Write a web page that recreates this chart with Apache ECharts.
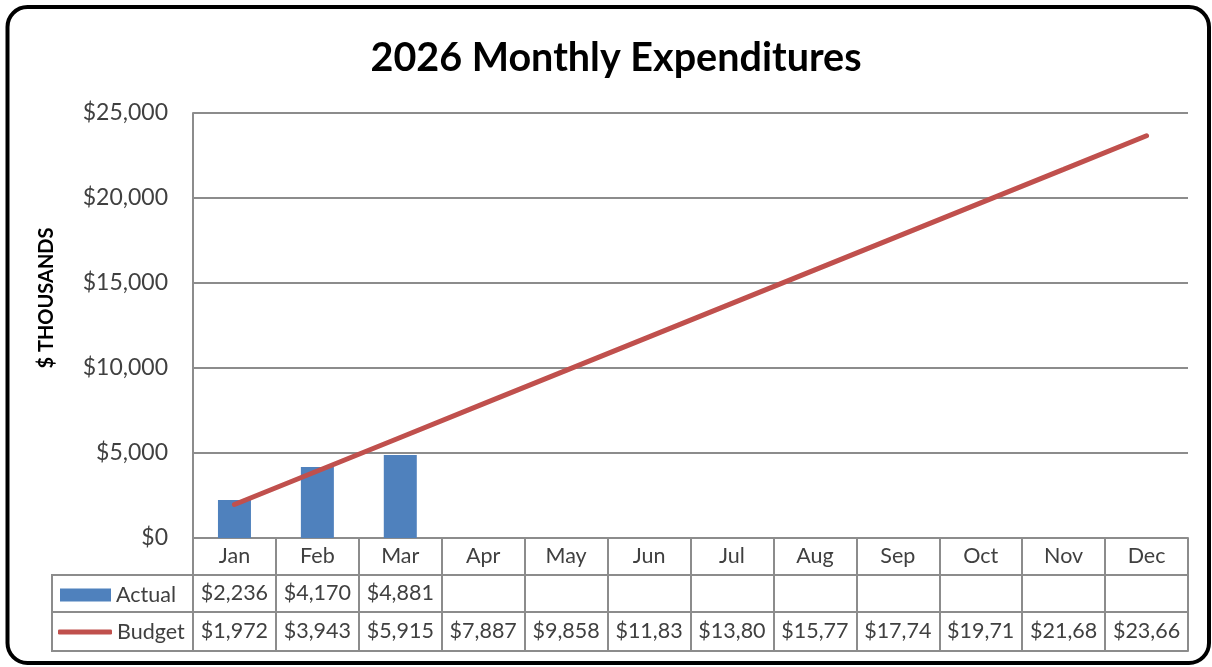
<!DOCTYPE html>
<html>
<head>
<meta charset="utf-8">
<title>2026 Monthly Expenditures</title>
<script src="https://cdn.jsdelivr.net/npm/echarts@6/dist/echarts.min.js"></script>
<style>
  html, body { margin: 0; padding: 0; background: #fff; }
  #chart { width: 1212px; height: 667px; }
</style>
</head>
<body>
<div id="chart"></div>
<script>
// Months along the category axis (also the header row of the data table)
const months = ['Jan', 'Feb', 'Mar', 'Apr', 'May', 'Jun', 'Jul', 'Aug', 'Sep', 'Oct', 'Nov', 'Dec'];
// Actual spend to date ($ thousands)
const actual = [2236, 4170, 4881, null, null, null, null, null, null, null, null, null];
// Cumulative budget ($ thousands)
const budget = [1972, 3943, 5915, 7887, 9858, 11830, 13801, 15773, 17744, 19715, 21686, 23660];
// Value axis ticks
const yMin = 0, yMax = 25000, yStep = 5000;

const FONT = 'Lato, "Open Sans", sans-serif';
const TEXT = '#404040';
const RULE = '#8c8c8c';
const BLUE = '#4f81bd';
const RED = '#c0504d';

// Plot layout
const G = { left: 193, right: 1188, top: 113, bottom: 538 };
const ROW = [37, 37, 39];            // table row heights: months, Actual, Budget
const LEG_LEFT = 52;                 // left edge of the series-name column

const money = v => '$' + String(v).replace(/\B(?=(\d{3})+(?!\d))/g, ',');

function tableAxis(offset, rowH, labelFn, showLabels) {
  return {
    type: 'category',
    data: months,
    position: 'bottom',
    offset: offset,
    boundaryGap: true,
    axisLine: { show: true, lineStyle: { color: RULE, width: 2 } },
    axisTick: { show: rowH > 0, interval: 0, alignWithLabel: false, inside: false,
                length: rowH, lineStyle: { color: RULE, width: 2 } },
    axisLabel: {
      show: showLabels, interval: 0, hideOverlap: false,
      margin: rowH / 2, verticalAlign: 'middle',
      fontFamily: FONT, fontSize: 21.5, color: TEXT,
      width: 73, overflow: 'truncate', ellipsis: '',
      formatter: labelFn
    },
    splitLine: { show: false }
  };
}

const chart = echarts.init(document.getElementById('chart'), null, { renderer: 'canvas' });

const rowY = [G.bottom, G.bottom + ROW[0], G.bottom + ROW[0] + ROW[1], G.bottom + ROW[0] + ROW[1] + ROW[2]];

chart.setOption({
  animation: false,
  backgroundColor: '#fff',
  title: {
    text: '2026 Monthly Expenditures',
    left: 611, top: 33, textAlign: 'center',
    textStyle: { fontFamily: FONT, fontWeight: 'bold', fontSize: 39.5, color: '#000' }
  },
  grid: {
    left: G.left, right: 1212 - G.right, top: G.top, bottom: 667 - G.bottom,
    containLabel: false, outerBoundsMode: 'none'
  },
  legend: [
    {
      data: [{ name: 'Actual', icon: 'rect' }],
      left: 60, top: 584, padding: 0,
      itemWidth: 51, itemHeight: 13,
      textStyle: { fontFamily: FONT, fontSize: 21.5, color: TEXT }
    },
    {
      data: [{ name: 'Budget', icon: 'roundRect' }],
      left: 58, top: 621, padding: 0,
      itemWidth: 54, itemHeight: 5,
      textStyle: { fontFamily: FONT, fontSize: 21.5, color: TEXT }
    }
  ],
  xAxis: [
    tableAxis(0, ROW[0], v => v, true),
    tableAxis(ROW[0], ROW[1], (v, i) => actual[i] == null ? '' : money(actual[i]), true),
    tableAxis(ROW[0] + ROW[1], ROW[2], (v, i) => budget[i] == null ? '' : money(budget[i]), true),
    tableAxis(ROW[0] + ROW[1] + ROW[2], 0, v => '', false)
  ],
  yAxis: {
    type: 'value',
    min: yMin, max: yMax, interval: yStep,
    axisLine: { show: true, lineStyle: { color: RULE, width: 2 } },
    axisTick: { show: false },
    axisLabel: { margin: 25, fontFamily: FONT, fontSize: 23, color: TEXT, formatter: v => money(v) },
    splitLine: { show: true, lineStyle: { color: RULE, width: 2 } }
  },
  series: [
    {
      name: 'Actual', type: 'bar', xAxisIndex: 0, data: actual,
      barWidth: 33, itemStyle: { color: BLUE }, z: 2
    },
    {
      name: 'Budget', type: 'line', xAxisIndex: 0, data: budget,
      symbol: 'none', smooth: false,
      lineStyle: { color: RED, width: 5, cap: 'round' },
      itemStyle: { color: RED }, z: 3
    }
  ],
  graphic: [
    // axis title
    {
      type: 'text', x: 47, y: 298, rotation: Math.PI / 2,
      style: { text: '$ THOUSANDS', fontFamily: FONT, fontWeight: 'bold', fontSize: 20,
               fill: '#000', align: 'center', verticalAlign: 'middle' }
    },
    // series-name column of the data table
    {
      type: 'polyline',
      shape: { points: [[G.left, rowY[1]], [LEG_LEFT, rowY[1]], [LEG_LEFT, rowY[3]], [G.left, rowY[3]]] },
      style: { stroke: RULE, lineWidth: 2, fill: null }
    },
    {
      type: 'line',
      shape: { x1: LEG_LEFT, y1: rowY[2], x2: G.left, y2: rowY[2] },
      style: { stroke: RULE, lineWidth: 2 }
    },
    // outer frame
    {
      type: 'rect',
      shape: { x: 7.5, y: 7, width: 1201.5, height: 656, r: 20 },
      style: { stroke: '#000', lineWidth: 4, fill: null },
      z: 100
    }
  ]
});
</script>
</body>
</html>
